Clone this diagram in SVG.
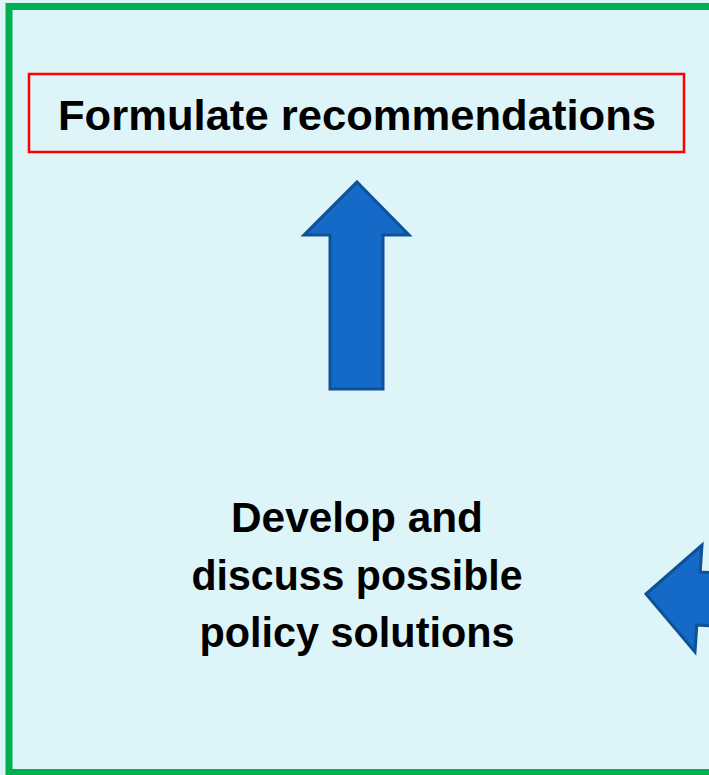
<svg xmlns="http://www.w3.org/2000/svg" width="709" height="775" viewBox="0 0 709 775">
<style>
.lbl{font-family:"Liberation Sans",Arial,sans-serif;font-weight:bold;fill:#000;text-anchor:middle;font-size:42px}
.arrow{fill:#1569C7;stroke:#0E5296;stroke-width:3;stroke-linejoin:miter}
</style>
<rect x="0" y="0" width="709" height="775" fill="#DDF4F8"/>
<g id="frame">
<rect x="9" y="6.5" width="720" height="766" fill="#DDF4F8" stroke="#00B050" stroke-width="7"/>
</g>
<g id="recommendations">
<rect x="29" y="74" width="655" height="78" fill="none" stroke="#FF0000" stroke-width="2.5"/>
<text class="lbl" x="357" y="130" textLength="598" lengthAdjust="spacingAndGlyphs">Formulate recommendations</text>
</g>
<g id="policy">
<text class="lbl" x="357" y="532" textLength="252" lengthAdjust="spacingAndGlyphs">Develop and</text>
<text class="lbl" x="357" y="590" textLength="331" lengthAdjust="spacingAndGlyphs">discuss possible</text>
<text class="lbl" x="357" y="647" textLength="315" lengthAdjust="spacingAndGlyphs">policy solutions</text>
</g>
<g id="connectors">
<polygon class="arrow" points="357,182 409,235 383,235 383,389 330,389 330,235 304,235"/>
<polygon class="arrow" points="646,594 702,545 700.2,572 800,578.5 796.6,631.5 696.8,625 695,652"/>
</g>
</svg>
